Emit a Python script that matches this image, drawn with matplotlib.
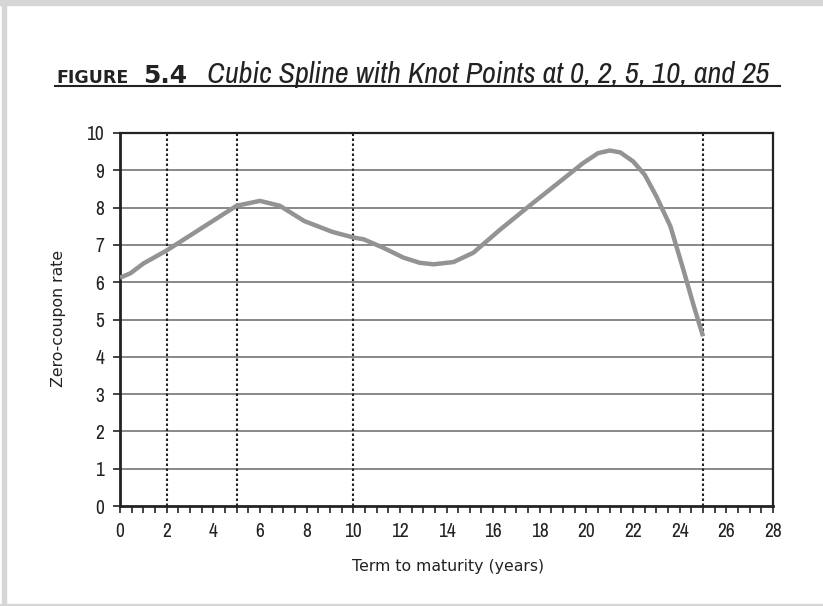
import matplotlib
matplotlib.use("Agg")
import matplotlib.pyplot as plt
from matplotlib.patches import Rectangle
from matplotlib.lines import Line2D
from matplotlib.ticker import MultipleLocator
from matplotlib import font_manager as fm

# Data
term = [0, 0.45, 1, 2, 3, 4, 5, 6, 6.85, 7.9, 9.1, 10, 10.45, 11.3, 12.15, 12.85,
        13.45, 14.3, 15.15, 16.3, 17.7, 19.15, 19.85, 20.5, 21.0, 21.45, 22.0,
        22.5, 23.0, 23.6, 24.15, 24.6, 25.0]
rate = [6.12, 6.24, 6.5, 6.85, 7.25, 7.65, 8.05, 8.18, 8.05, 7.64, 7.35, 7.2, 7.15,
        6.92, 6.66, 6.52, 6.48, 6.54, 6.79, 7.41, 8.12, 8.84, 9.19, 9.46, 9.53,
        9.48, 9.24, 8.88, 8.30, 7.50, 6.35, 5.37, 4.55]
knots = [2, 5, 10, 25]
x_ticks = list(range(0, 29, 2))
y_ticks = list(range(0, 11))

# pick a condensed / narrow face if one is installed
narrow_family = None
narrow_stretch = "normal"
for f in fm.fontManager.ttflist:
    if "Narrow" in f.name or "Condensed" in f.name:
        narrow_family = f.name
        break
if narrow_family is None:
    for f in fm.fontManager.ttflist:
        if f.stretch in ("condensed", "semi-condensed", 600, 700) and f.name in ("DejaVu Sans", "Liberation Sans", "Roboto", "Open Sans", "Noto Sans", "Lato", "Inter"):
            narrow_family = f.name
            narrow_stretch = "condensed"
            break
have_narrow = narrow_family is not None
if not have_narrow:
    narrow_family = "DejaVu Sans"
narrow = [narrow_family, "DejaVu Sans"]

W, H = 823, 606
fig = plt.figure(figsize=(W / 100, H / 100), dpi=100)
fig.patch.set_facecolor("white")

# light grey page frame
frame_col = "#d6d6d6"
fig.patches.append(Rectangle((0, 1 - 5 / H), 1, 5 / H, transform=fig.transFigure, color=frame_col, zorder=0))
fig.patches.append(Rectangle((2 / W, 0), 4 / W, 1, transform=fig.transFigure, color=frame_col, zorder=0))
fig.patches.append(Rectangle((0, 0), 1, 2 / H, transform=fig.transFigure, color=frame_col, zorder=0))

AX_L, AX_R, AX_T, AX_B = 120, 773, 133, 506
ax = fig.add_axes([AX_L / W, (H - AX_B) / H, (AX_R - AX_L) / W, (AX_B - AX_T) / H])
ax.set_xlim(0, 28)
ax.set_ylim(0, 10)

for yv in y_ticks[1:-1]:
    ax.axhline(yv, color="#747474", lw=1.2, zorder=1)
for k in knots:
    ax.axvline(k, color="#222222", lw=1.5, ls=(0, (1.2, 1.2)), zorder=2)

ax.plot(term, rate, color="#939393", lw=3.2, solid_joinstyle="round",
        solid_capstyle="butt", zorder=3)

tick_size = 14 if have_narrow else 11.5
ax.set_xticks(x_ticks)
ax.set_yticks(y_ticks)
ax.xaxis.set_minor_locator(MultipleLocator(0.5))
ax.tick_params(axis="x", which="both", direction="out", length=5, width=1.2,
               colors="#222222", labelsize=tick_size, pad=6.5)
ax.tick_params(axis="y", which="major", direction="out", length=5, width=1.2,
               colors="#222222", labelsize=tick_size, pad=6.5)
for lab in ax.get_xticklabels() + ax.get_yticklabels():
    lab.set_family(narrow)
    lab.set_stretch(narrow_stretch)
    lab.set_color("#222222")

for side in ["left", "bottom"]:
    ax.spines[side].set_linewidth(2)
for side in ["top", "right"]:
    ax.spines[side].set_linewidth(1.6)
for s in ax.spines.values():
    s.set_color("#222222")

ax.set_xlabel("Term to maturity (years)", fontsize=11.3, color="#222222", va="center")
ax.set_ylabel("Zero-coupon rate", fontsize=11.3, color="#222222", va="center")
ax.xaxis.set_label_coords((448.5 - AX_L) / (AX_R - AX_L), (AX_B - 566) / (AX_B - AX_T))
ax.yaxis.set_label_coords((58.5 - AX_L) / (AX_R - AX_L), (AX_B - 318) / (AX_B - AX_T))

# Title pieces
ty = 1 - 83 / H
fig.text(56 / W, ty, "FIGURE", fontsize=12.5, fontweight="bold", color="#222222",
         ha="left", va="baseline")
fig.text(143 / W, ty, "5.4", fontsize=18, fontweight="bold", color="#222222",
         ha="left", va="baseline")
fig.text(207 / W, ty, "Cubic Spline with Knot Points at 0, 2, 5, 10, and 25",
         fontsize=(21.8 if have_narrow else 16), style="italic", family=narrow,
         stretch=narrow_stretch, color="#222222", ha="left", va="baseline")
fig.lines.append(Line2D([55 / W, 780 / W], [1 - 85.5 / H, 1 - 85.5 / H],
                        transform=fig.transFigure, color="#222222", lw=1.5))

fig.savefig("out.png", dpi=100)
